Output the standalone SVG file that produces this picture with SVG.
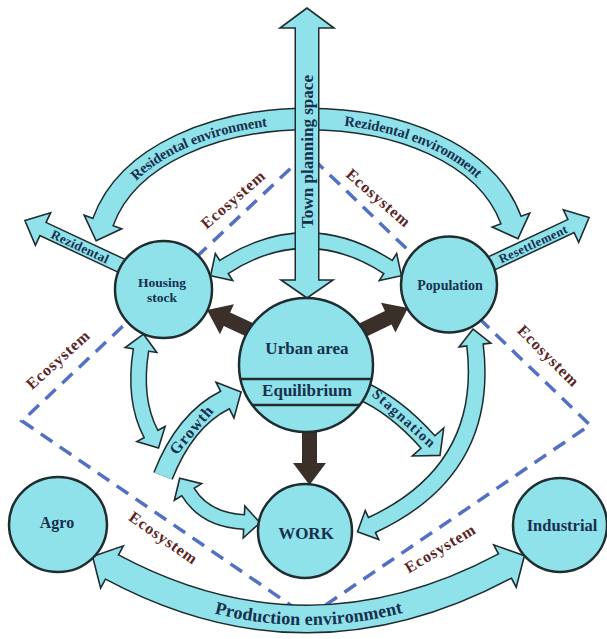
<svg xmlns="http://www.w3.org/2000/svg" xmlns:xlink="http://www.w3.org/1999/xlink" width="607" height="639" viewBox="0 0 607 639">
<style>
.bo{fill:none;stroke:#1f2d30;stroke-linejoin:round}
.bi{fill:none;stroke:#8fe1ea}
.hd{fill:#8fe1ea;stroke:#1f2d30;stroke-width:1.6;stroke-linejoin:miter}
.node{fill:#8fe1ea;stroke:#1f2d30;stroke-width:2.5}
.lbl{font-family:"Liberation Serif","Times New Roman",serif;font-weight:bold;fill:#17304d;text-anchor:middle}
.eco{font-family:"Liberation Serif","Times New Roman",serif;font-weight:bold;font-size:16px;fill:#5b2525;text-anchor:middle}
.dash{fill:none;stroke:#5270c4;stroke-width:3.5;stroke-dasharray:14 9}
.blk{fill:#3a2f29}
</style>
<defs>
<polygon id="hB" points="0,0 -20,-20 -20,20"/>
<polygon id="hM" points="0,0 -16,-16 -16,16"/>
<polygon id="hR" points="0,0 -20,-18 -20,18"/>
<polygon id="hS" points="0,0 -18,-21 -18,21"/>
<polygon id="hG" points="0,0 -18,-20 -18,20"/>
<polygon id="hP" points="0,0 -22,-24 -22,24"/>
<polygon id="bk" points="0,0 -22,-16.5 -22,-7.5 -64,-7.5 -64,7.5 -22,7.5 -22,16.5"/>
<path id="arcP" d="M103,222 C153,85 461,85 511,220"/>
<path id="prodP" d="M112,567 Q307,671.5 505,566"/>
</defs>
<rect width="607" height="639" fill="#ffffff"/>

<g id="ecosystem">
<polyline class="dash" points="307,153 22,421 308,617 590,425 307,153"/>
<text class="eco" textLength="79" lengthAdjust="spacing" transform="translate(233,200) rotate(-41)" y="5">Ecosystem</text>
<text class="eco" textLength="79" lengthAdjust="spacing" transform="translate(378,198) rotate(41)" y="5">Ecosystem</text>
<text class="eco" textLength="79" lengthAdjust="spacing" transform="translate(548,356) rotate(45)" y="5">Ecosystem</text>
<text class="eco" textLength="79" lengthAdjust="spacing" transform="translate(58,360) rotate(-42)" y="5">Ecosystem</text>
<text class="eco" textLength="79" lengthAdjust="spacing" transform="translate(163,538) rotate(35)" y="5">Ecosystem</text>
<text class="eco" textLength="79" lengthAdjust="spacing" transform="translate(440,549) rotate(-31)" y="5">Ecosystem</text>
</g>

<g id="connectors">
<g id="residential-arc">
<path class="bo" stroke-width="23" d="M102.3,223.9 L103,222 C153,85 461,85 511,220 L511.7,221.9"/>
<use xlink:href="#hB" href="#hB" class="hd" transform="translate(96.1,240.8) rotate(110)"/>
<use xlink:href="#hB" href="#hB" class="hd" transform="translate(517.9,238.8) rotate(69.7)"/>
<path class="bi" stroke-width="20" d="M102.3,223.9 L103,222 C153,85 461,85 511,220 L511.7,221.9"/>
<text class="lbl" font-size="14.5" dominant-baseline="central"><textPath xlink:href="#arcP" href="#arcP" startOffset="128" text-anchor="middle">Residental environment</textPath></text>
<text class="lbl" font-size="14.5" dominant-baseline="central"><textPath xlink:href="#arcP" href="#arcP" startOffset="354" text-anchor="middle">Rezidental environment</textPath></text>
</g>
<g id="inner-arc">
<path class="bo" stroke-width="17" d="M222.3,268.1 L224,267 Q306,214 388,267 L389.7,268.1"/>
<use xlink:href="#hM" href="#hM" class="hd" transform="translate(210.6,275.7) rotate(147.1)"/>
<use xlink:href="#hM" href="#hM" class="hd" transform="translate(401.4,275.7) rotate(32.9)"/>
<path class="bi" stroke-width="14" d="M222.3,268.1 L224,267 Q306,214 388,267 L389.7,268.1"/>
</g>
<g id="town-planning">
<line class="bo" stroke-width="25" x1="307" y1="26" x2="307" y2="282"/>
<polygon class="hd" points="307,8 280,28 334,28"/>
<polygon class="hd" points="307,298 281,280 333,280"/>
<line class="bi" stroke-width="22" x1="307" y1="26" x2="307" y2="282"/>
<text class="lbl" font-size="16" textLength="153" lengthAdjust="spacingAndGlyphs" transform="translate(312.5,151.5) rotate(-90)">Town planning space</text>
</g>
<g id="rezidental">
<path class="bo" stroke-width="16" d="M122,266 L41.2,228.2"/>
<use xlink:href="#hR" href="#hR" class="hd" transform="translate(24.9,220.5) rotate(205.1)"/>
<path class="bi" stroke-width="13" d="M122,266 L41.2,228.2"/>
<text class="lbl" font-size="13" textLength="62" lengthAdjust="spacing" transform="translate(80,246.5) rotate(25)" y="4.5">Rezidental</text>
</g>
<g id="resettlement">
<path class="bo" stroke-width="16" d="M488,265 L572.8,225.2"/>
<use xlink:href="#hR" href="#hR" class="hd" transform="translate(589.1,217.5) rotate(-25.2)"/>
<path class="bi" stroke-width="13" d="M488,265 L572.8,225.2"/>
<text class="lbl" font-size="12.5" textLength="74" lengthAdjust="spacing" transform="translate(533,244) rotate(-25)" y="4.3">Resettlement</text>
</g>
<g id="left-arc">
<path class="bo" stroke-width="17" d="M141.3,348 L141,350 Q133,400 151,434 L151.9,435.8"/>
<use xlink:href="#hM" href="#hM" class="hd" transform="translate(143.5,334.2) rotate(-81)"/>
<use xlink:href="#hM" href="#hM" class="hd" transform="translate(158.5,448.1) rotate(62)"/>
<path class="bi" stroke-width="14" d="M141.3,348 L141,350 Q133,400 151,434 L151.9,435.8"/>
</g>
<g id="work-left">
<path class="bo" stroke-width="16" d="M187,490.3 L188,492 Q205,520 244,522 L246,522.1"/>
<use xlink:href="#hM" href="#hM" class="hd" transform="translate(179.7,478.3) rotate(-121.3)"/>
<use xlink:href="#hM" href="#hM" class="hd" transform="translate(260,522.8) rotate(2.9)"/>
<path class="bi" stroke-width="13" d="M187,490.3 L188,492 Q205,520 244,522 L246,522.1"/>
</g>
<g id="growth">
<path class="bo" stroke-width="21" d="M163,476 Q185,420 225,400 L226.8,399.1"/>
<use xlink:href="#hG" href="#hG" class="hd" transform="translate(241.1,392) rotate(-26.6)"/>
<path class="bi" stroke-width="18" d="M163,476 Q185,420 225,400 L226.8,399.1"/>
<text class="lbl" font-size="16" textLength="58" lengthAdjust="spacing" transform="translate(191,430) rotate(-50)" y="5.5">Growth</text>
</g>
<g id="stagnation">
<path class="bo" stroke-width="20" d="M360,390 Q395,405 428,442 L429.3,443.5"/>
<use xlink:href="#hS" href="#hS" class="hd" transform="translate(440,455.4) rotate(48.3)"/>
<path class="bi" stroke-width="17" d="M360,390 Q395,405 428,442 L429.3,443.5"/>
<text class="lbl" font-size="14.5" textLength="79" lengthAdjust="spacing" transform="translate(404,418) rotate(42)" y="5">Stagnation</text>
</g>
<g id="right-arc">
<path class="bo" stroke-width="18" d="M474.8,343 L475,345 Q490,470 372,525 L370.2,525.8"/>
<use xlink:href="#hM" href="#hM" class="hd" transform="translate(473.1,329.1) rotate(-96.8)"/>
<use xlink:href="#hM" href="#hM" class="hd" transform="translate(357.5,531.8) rotate(155)"/>
<path class="bi" stroke-width="15" d="M474.8,343 L475,345 Q490,470 372,525 L370.2,525.8"/>
</g>
<g id="production">
<path class="bo" stroke-width="29" d="M110.2,566.1 L112,567 Q307,671.5 505,566 L506.8,565.1"/>
<use xlink:href="#hP" href="#hP" class="hd" transform="translate(92.6,556.6) rotate(208.2)"/>
<use xlink:href="#hP" href="#hP" class="hd" transform="translate(524.4,555.7) rotate(-28)"/>
<path class="bi" stroke-width="26" d="M110.2,566.1 L112,567 Q307,671.5 505,566 L506.8,565.1"/>
<text class="lbl" font-size="18" dominant-baseline="central"><textPath xlink:href="#prodP" href="#prodP" startOffset="50%" text-anchor="middle">Production environment</textPath></text>
</g>
<g id="urban-out">
<use xlink:href="#bk" href="#bk" class="blk" transform="translate(207,310) rotate(205)"/>
<use xlink:href="#bk" href="#bk" class="blk" transform="translate(408,308) rotate(-26)"/>
<use xlink:href="#bk" href="#bk" class="blk" transform="translate(309.5,485) rotate(90)"/>
</g>
</g>

<g id="housing">
<circle class="node" cx="163.5" cy="289.5" r="48.5"/>
<text class="lbl" font-size="13.5" x="162" y="287">Housing</text>
<text class="lbl" font-size="13.5" x="162" y="302">stock</text>
</g>
<g id="population">
<circle class="node" cx="449" cy="284.5" r="48"/>
<text class="lbl" font-size="14" x="450" y="290">Population</text>
</g>
<g id="urban">
<circle class="node" cx="306" cy="365" r="67"/>
<line x1="240.5" y1="379" x2="371.5" y2="379" stroke="#1f2d30" stroke-width="2.5"/>
<line x1="252.3" y1="405" x2="359.8" y2="405" stroke="#1f2d30" stroke-width="2.5"/>
<text class="lbl" font-size="17" x="307" y="354">Urban area</text>
<text class="lbl" font-size="17" x="307" y="396">Equilibrium</text>
</g>
<g id="work">
<circle class="node" cx="305" cy="531" r="47"/>
<text class="lbl" font-size="17" x="306" y="539">WORK</text>
</g>
<g id="agro">
<ellipse class="node" cx="58" cy="524.5" rx="49" ry="47.5"/>
<text class="lbl" font-size="16" x="57" y="528">Agro</text>
</g>
<g id="industrial">
<circle class="node" cx="560" cy="525" r="47"/>
<text class="lbl" font-size="16.5" x="562" y="531">Industrial</text>
</g>
</svg>
